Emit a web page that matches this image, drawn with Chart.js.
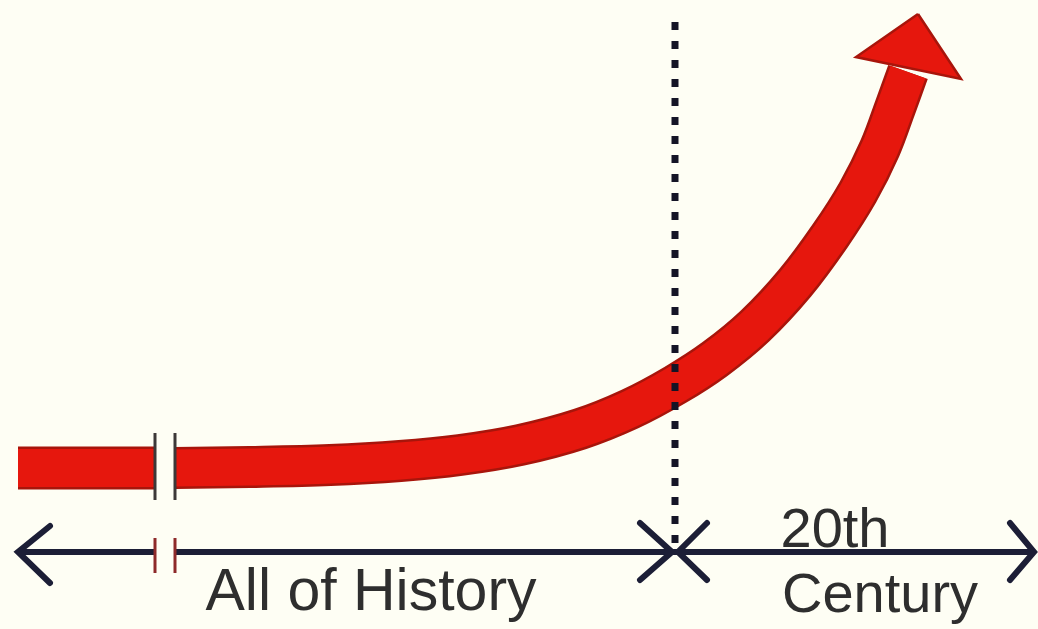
<!DOCTYPE html>
<html>
<head>
<meta charset="utf-8">
<script src="https://cdn.jsdelivr.net/npm/chart.js@4.4.1/dist/chart.umd.min.js"></script>
<style>
  html, body { margin: 0; padding: 0; background: #fefef4; }
  #wrap { width: 1038px; height: 629px; position: relative; }
</style>
</head>
<body>
<div id="wrap"><canvas id="c"></canvas></div>
<script>
// ---- Data (abstract units: time on x, growth on y) ----
const historyX = [1.8, 15.5];
const historyY = [16.1, 16.1];

const growthX = [17.5, 25, 33, 40, 46, 52, 58, 63, 67.5, 71.5, 75.5, 79.5, 83, 85.8, 88, 89.5, 90.8];
const growthY = [16.1, 16.2, 16.4, 16.8, 17.4, 18.4, 20.0, 22.0, 24.4, 27.0, 30.3, 34.6, 39.3, 43.7, 48.1, 52.1, 55.7];

const arrowHeadX = [91.8, 85.6, 96.1, 91.8];
const arrowHeadY = [61.5, 57.2, 55.0, 61.5];

const breakX = [15.5, 17.5];
const bandBreakY = [19.6, 12.9];
const axisBreakY = [9.1, 5.6];

const centuryStartX = 67.5;
const dividerY = [60.7, 8.1];

const axisY = 7.7;
const axisLeftX = [1.8, 15.5];
const axisRightX = [17.5, 103.3];

const leftArrowX = [5.0, 1.8, 5.0];
const leftArrowY = [10.3, 7.7, 4.6];
const rightArrowX = [101.0, 103.4, 101.0];
const rightArrowY = [10.6, 7.7, 4.9];
const midLeftX = [64.0, 67.2, 64.0];
const midRightX = [70.7, 67.8, 70.7];
const midY = [10.6, 7.7, 4.9];

const labelTexts = ['All of History', '20th', 'Century'];
const labelX = [37.1, 83.5, 88.0];
const labelY = [1.9, 8.2, 1.7];
const labelSizes = [59, 56, 56];

// ---- helpers ----
const pts = (xs, ys) => xs.map((x, i) => ({ x, y: ys[i] }));
const RED = '#e6170d';
const RED_EDGE = '#a8150b';
const NAVY = '#1c1e36';

function lineDs(data, color, width, order, extra) {
  return Object.assign({
    data, borderColor: color, borderWidth: width, order,
    pointRadius: 0, tension: 0, fill: false, clip: false,
    borderCapStyle: 'butt', borderJoinStyle: 'miter'
  }, extra || {});
}

const smooth = { tension: 0.35, borderJoinStyle: 'round' };

const datasets = [
  // red band outline + fill
  lineDs(pts(historyX, historyY), RED_EDGE, 43, 20),
  lineDs(pts(historyX, historyY), RED, 38, 19),
  lineDs(pts(growthX, growthY), RED_EDGE, 42, 20, smooth),
  lineDs(pts(growthX, growthY), RED, 37, 19, smooth),
  lineDs(pts(arrowHeadX, arrowHeadY), RED_EDGE, 2.5, 18, { fill: 'shape', backgroundColor: RED, borderJoinStyle: 'miter' }),
  // break marks on band
  lineDs(pts([breakX[0], breakX[0]], bandBreakY), '#3d3838', 3, 5),
  lineDs(pts([breakX[1], breakX[1]], bandBreakY), '#3d3838', 3, 5),
  // axis
  lineDs(pts(axisLeftX, [axisY, axisY]), NAVY, 6, 6),
  lineDs(pts(axisRightX, [axisY, axisY]), NAVY, 6, 6),
  lineDs(pts(leftArrowX, leftArrowY), NAVY, 6, 6, { borderCapStyle: 'round' }),
  lineDs(pts(rightArrowX, rightArrowY), NAVY, 6, 6, { borderCapStyle: 'round' }),
  lineDs(pts(midLeftX, midY), NAVY, 6, 6, { borderCapStyle: 'round' }),
  lineDs(pts(midRightX, midY), NAVY, 6, 6, { borderCapStyle: 'round' }),
  // axis break marks
  lineDs(pts([breakX[0], breakX[0]], axisBreakY), '#8e2a2a', 3, 5),
  lineDs(pts([breakX[1], breakX[1]], axisBreakY), '#8e2a2a', 3, 5),
  // dotted divider
  lineDs(pts([centuryStartX, centuryStartX], dividerY), '#141426', 7, 1, { borderDash: [8, 11] })
];

const labelPlugin = {
  id: 'labels',
  afterDatasetsDraw(chart) {
    const { ctx, scales } = chart;
    ctx.save();
    ctx.fillStyle = '#2e2e2e';
    ctx.textAlign = 'center';
    ctx.textBaseline = 'alphabetic';
    labelTexts.forEach((t, i) => {
      ctx.font = labelSizes[i] + 'px "Liberation Sans", Arial, sans-serif';
      ctx.fillText(t, scales.x.getPixelForValue(labelX[i]), scales.y.getPixelForValue(labelY[i]));
    });
    ctx.restore();
  }
};

new Chart(document.getElementById('c'), {
  type: 'line',
  data: { datasets },
  plugins: [labelPlugin],
  options: {
    responsive: true,
    maintainAspectRatio: false,
    animation: false,
    events: [],
    layout: { padding: 0 },
    plugins: { legend: { display: false }, tooltip: { enabled: false }, title: { display: false } },
    scales: {
      x: { type: 'linear', min: 0, max: 103.8, display: false },
      y: { type: 'linear', min: 0, max: 62.9, display: false }
    }
  }
});
</script>
</body>
</html>
